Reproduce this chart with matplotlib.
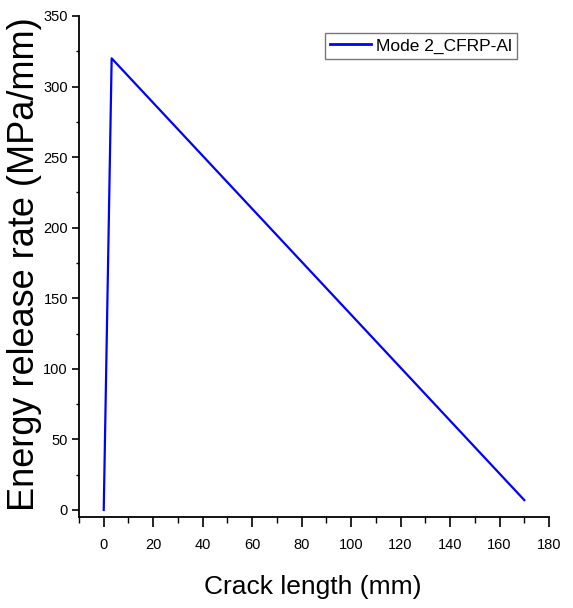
import matplotlib
matplotlib.use("Agg")
import matplotlib.pyplot as plt
from matplotlib.ticker import MultipleLocator

plt.rcParams['font.family'] = ['Liberation Sans', 'DejaVu Sans']

crack_length = [0, 3.2, 170]
energy_release = [0, 320, 7]
series_label = "Mode 2_CFRP-Al"
x_ticks = list(range(0, 181, 20))
y_ticks = list(range(0, 351, 50))

fig = plt.figure(figsize=(5.73, 6.08), dpi=100)
ax = fig.add_axes([79/573, 1-517/608, 470/573, 501/608])
ax.plot(crack_length, energy_release, color='#0000ff', lw=1.6, label=series_label)

ax.set_xlim(-10, 180)
ax.set_ylim(-5, 350)
ax.set_xticks(x_ticks)
ax.set_yticks(y_ticks)
ax.xaxis.set_minor_locator(MultipleLocator(10))
ax.yaxis.set_minor_locator(MultipleLocator(25))

for s in ['top', 'right']:
    ax.spines[s].set_visible(False)
for s in ['left', 'bottom']:
    ax.spines[s].set_linewidth(1.3)
ax.tick_params(axis='x', which='major', direction='out', length=7, width=1.2, labelsize=10.5, pad=8)
ax.tick_params(axis='x', which='minor', direction='out', length=4, width=1.0)
ax.tick_params(axis='y', which='major', direction='out', length=5, width=1.2, labelsize=10.5, pad=3)
ax.tick_params(axis='y', which='minor', direction='out', length=2.5, width=1.0)

ax.set_xlabel("Crack length (mm)", fontsize=19, va='center')
ax.xaxis.set_label_coords(0.498, (517-587)/501)
ax.set_ylabel("Energy release rate (MPa/mm)", fontsize=26, va='center')
ax.yaxis.set_label_coords((25-79)/470, (517-264)/501)

leg = ax.legend(loc='upper right', bbox_to_anchor=(517/573, 1-33/608),
                bbox_transform=fig.transFigure, borderaxespad=0, fontsize=12.5,
                frameon=True, fancybox=False, handlelength=2.35, borderpad=0.3,
                handletextpad=0.3)
leg.get_frame().set_edgecolor('#555555')
leg.get_frame().set_linewidth(1.0)
for line in leg.get_lines():
    line.set_linewidth(2.0)

fig.savefig("out.png", dpi=100)
